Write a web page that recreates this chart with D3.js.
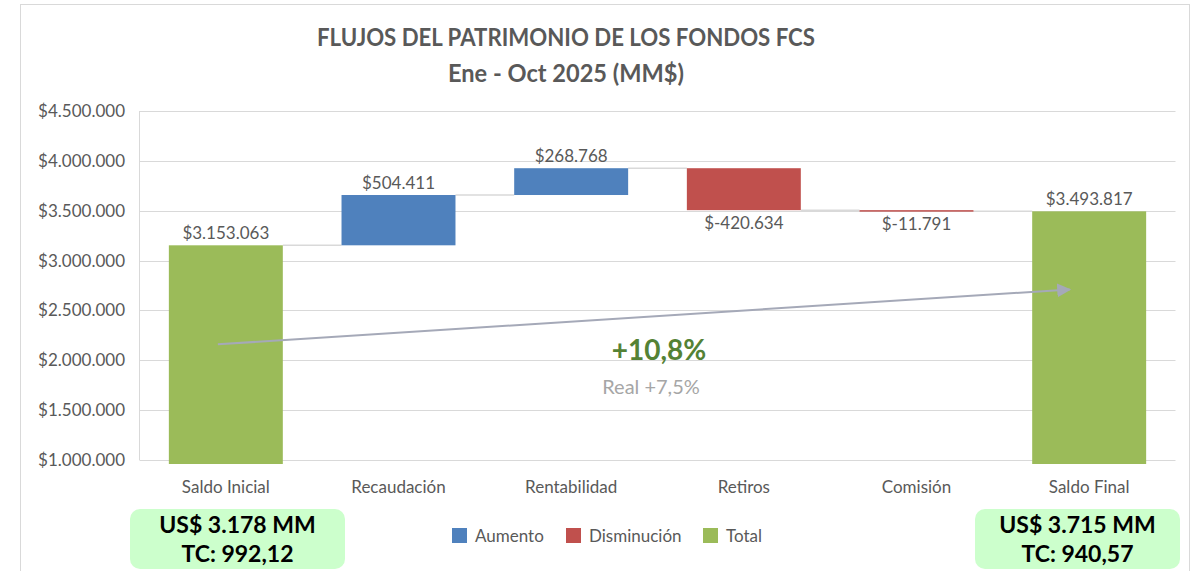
<!DOCTYPE html>
<html>
<head>
<meta charset="utf-8">
<script src="https://cdn.jsdelivr.net/npm/d3@7"></script>
<style>
  body { margin: 0; background: #fff; overflow: hidden; }
  svg { display: block; font-family: Lato, "Open Sans", sans-serif; }
</style>
</head>
<body>
<div id="chart"></div>
<script>
// data
const categories = ["Saldo Inicial", "Recaudación", "Rentabilidad", "Retiros", "Comisión", "Saldo Final"];
const flowValues = [3153063, 504411, 268768, -420634, -11791, 3493817];
const flowTypes = ["total", "up", "up", "down", "down", "total"];
const valueLabels = ["$3.153.063", "$504.411", "$268.768", "$-420.634", "$-11.791", "$3.493.817"];
const yTicks = [1000000, 1500000, 2000000, 2500000, 3000000, 3500000, 4000000, 4500000];
const legendNames = ["Aumento", "Disminución", "Total"];
const boxLines = [["US$ 3.178 MM", "TC: 992,12"], ["US$ 3.715 MM", "TC: 940,57"]];

const W = 1201, H = 571;
const margin = { left: 139.5, right: 25.5, top: 111, bottom: 111 };
const colors = { up: "#4f81bd", down: "#c0504d", total: "#9bbb59" };
const gray = "#595959";

const root = d3.select("#chart").append("svg").attr("width", W).attr("height", H);

// outer chart frame
root.append("rect").attr("x", 20.5).attr("y", 4.5).attr("width", 1169).attr("height", 580)
  .attr("fill", "#fff").attr("stroke", "#d9d9d9");

// build waterfall segments
let running = 0;
const bars = flowValues.map((v, i) => {
  let lo, hi;
  if (flowTypes[i] === "total") { lo = 0; hi = v; running = v; }
  else { lo = running; hi = running + v; running = hi; }
  return { cat: categories[i], type: flowTypes[i], y0: Math.min(lo, hi), y1: Math.max(lo, hi), end: hi, label: valueLabels[i], neg: v < 0 };
});

const x = d3.scaleBand().domain(categories).range([margin.left, W - margin.right]).paddingInner(0.34).paddingOuter(0.17);
const y = d3.scaleLinear().domain([1000000, 4500000]).range([H - margin.bottom, margin.top]);

// gridlines
root.append("g").selectAll("line").data(yTicks).join("line")
  .attr("x1", margin.left).attr("x2", W - margin.right)
  .attr("y1", d => Math.round(y(d)) + 0.5).attr("y2", d => Math.round(y(d)) + 0.5)
  .attr("stroke", "#d9d9d9").attr("stroke-width", 1);

// left axis line
root.append("line").attr("x1", margin.left).attr("x2", margin.left)
  .attr("y1", y(4500000)).attr("y2", y(1000000)).attr("stroke", "#d9d9d9");

// y tick labels
const fmt = d => "$" + d3.format(",")(d).replace(/,/g, ".");
root.append("g").selectAll("text").data(yTicks).join("text")
  .attr("x", 125).attr("y", d => y(d)).attr("dy", "0.35em")
  .attr("text-anchor", "end").attr("font-size", 17).attr("fill", gray)
  .text(fmt);

// connectors
const conn = root.append("g");
bars.forEach((b, i) => {
  if (i === bars.length - 1) return;
  const yy = y(b.end);
  conn.append("line")
    .attr("x1", x(b.cat) + x.bandwidth()).attr("x2", x(categories[i + 1]))
    .attr("y1", yy).attr("y2", yy)
    .attr("stroke", "#d9d9d9").attr("stroke-width", 1.5);
});

// bars
const bottomY = y(1000000) + 4;
root.append("g").selectAll("rect").data(bars).join("rect")
  .attr("x", d => x(d.cat))
  .attr("width", x.bandwidth())
  .attr("y", d => y(d.y1))
  .attr("height", d => Math.max(1.5, (d.y0 < 1000000 ? bottomY : y(d.y0)) - y(d.y1)))
  .attr("fill", d => colors[d.type]);

// value labels
root.append("g").selectAll("text").data(bars).join("text")
  .attr("x", d => x(d.cat) + x.bandwidth() / 2)
  .attr("y", d => d.neg ? y(d.y0) + 19 : y(d.y1) - 6)
  .attr("text-anchor", "middle").attr("font-size", 17).attr("fill", gray)
  .text(d => d.label);

// category labels
root.append("g").selectAll("text").data(categories).join("text")
  .attr("x", d => x(d) + x.bandwidth() / 2).attr("y", 493)
  .attr("text-anchor", "middle").attr("font-size", 17).attr("fill", gray)
  .text(d => d);

// title
root.append("text").attr("x", 566).attr("y", 46)
  .attr("font-size", 25).attr("font-weight", "bold").attr("fill", gray)
  .attr("text-anchor", "middle").attr("textLength", 498).attr("lengthAdjust", "spacingAndGlyphs")
  .text("FLUJOS DEL PATRIMONIO DE LOS FONDOS FCS");
root.append("text").attr("x", 566).attr("y", 82).attr("text-anchor", "middle")
  .attr("font-size", 25).attr("font-weight", "bold").attr("fill", gray)
  .attr("textLength", 236).attr("lengthAdjust", "spacingAndGlyphs")
  .text("Ene - Oct 2025 (MM$)");

// growth arrow from Saldo Inicial to Saldo Final
root.append("defs").append("marker").attr("id", "arr")
  .attr("viewBox", "0 0 10 10").attr("refX", 9).attr("refY", 5)
  .attr("markerWidth", 7).attr("markerHeight", 7).attr("orient", "auto")
  .append("path").attr("d", "M0,0 L10,5 L0,10 Z").attr("fill", "#a5a9b8");
const xs = x(categories[0]) + x.bandwidth() * 0.43;
const xe = x(categories[5]) + x.bandwidth() * 0.33;
root.append("line")
  .attr("x1", xs).attr("y1", y(2160000))
  .attr("x2", xe).attr("y2", y(2710000))
  .attr("stroke", "#a5a9b8").attr("stroke-width", 2)
  .attr("marker-end", "url(#arr)");

root.append("text").attr("x", 659).attr("y", 360).attr("text-anchor", "middle")
  .attr("font-size", 28).attr("font-weight", "bold").attr("fill", "#548235")
  .text("+10,8%");
root.append("text").attr("x", 651).attr("y", 394).attr("text-anchor", "middle")
  .attr("font-size", 20).attr("fill", "#a6a6a6")
  .text("Real +7,5%");

// legend
const legendX = [452, 566, 703];
const lg = root.append("g").selectAll("g").data(legendNames).join("g")
  .attr("transform", (d, i) => `translate(${legendX[i]},528)`);
lg.append("rect").attr("width", 15).attr("height", 15)
  .attr("fill", (d, i) => colors[["up", "down", "total"][i]]);
lg.append("text").attr("x", 23).attr("y", 8).attr("dy", "0.35em")
  .attr("font-size", 17).attr("fill", gray).text(d => d);

// USD boxes
const boxX = [130, 975], boxW = [215, 205];
boxLines.forEach((lines, i) => {
  const g = root.append("g").attr("transform", `translate(${boxX[i]},509)`);
  g.append("rect").attr("width", boxW[i]).attr("height", 60).attr("rx", 10)
    .attr("fill", "#ccffcc");
  lines.forEach((t, j) => {
    g.append("text").attr("x", boxW[i] / 2).attr("y", 24 + j * 29)
      .attr("text-anchor", "middle").attr("font-size", 23).attr("font-weight", "bold")
      .attr("fill", "#000").text(t);
  });
});
</script>
</body>
</html>
